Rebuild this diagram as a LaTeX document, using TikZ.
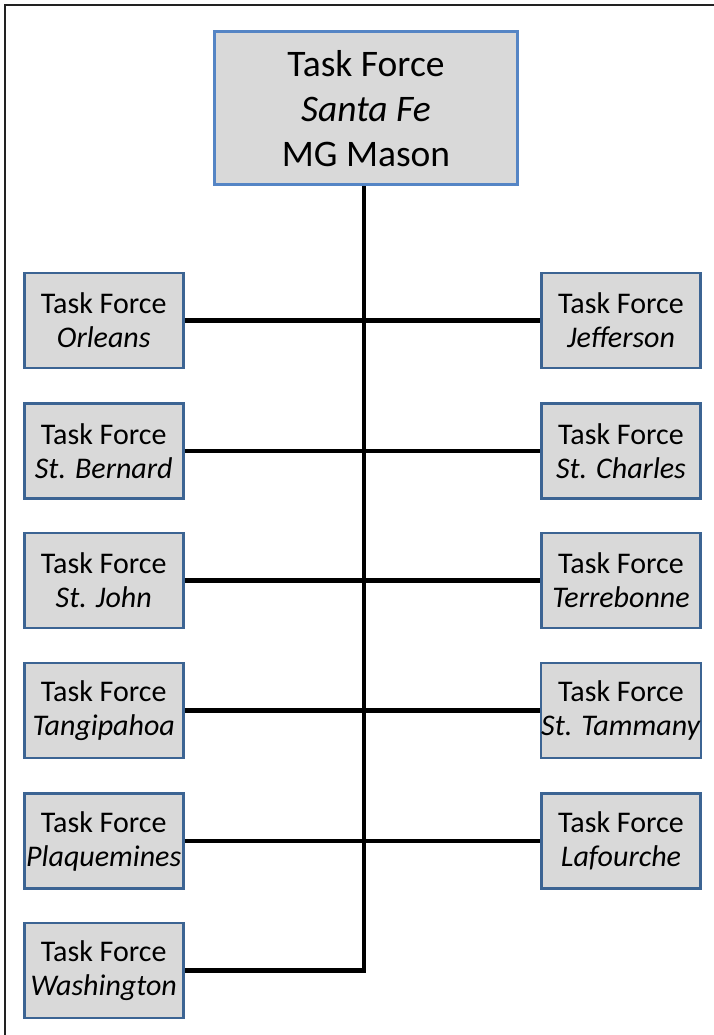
\documentclass[tikz,border=0pt]{standalone}
\usepackage{fontspec}
\setmainfont{Carlito}
\definecolor{boxfill}{HTML}{D9D9D9}
\definecolor{topedge}{HTML}{5585C5}
\definecolor{boxedge}{HTML}{3C6493}
\definecolor{framecol}{HTML}{222222}
\begin{document}
\begin{tikzpicture}[x=1pt,y=-1pt,
  tfbox/.style={draw=boxedge, line width=2.5pt, fill=boxfill, minimum width=159pt, minimum height=95pt, inner sep=0pt, align=center, font=\fontsize{30}{34}\selectfont},
  topbox/.style={draw=topedge, line width=3pt, fill=boxfill, minimum width=303pt, minimum height=153pt, inner sep=0pt, align=center, font=\fontsize{37.5}{45}\selectfont},
  link/.style={line width=4.5pt, black}]
\useasboundingbox (0,0) rectangle (714,1035);
\draw[framecol, line width=2.5pt] (5,1035) -- (5,5) -- (714,5);

\node[topbox] (top) at (366,108.5) {Task Force\\\textit{Santa Fe}\\MG Mason};

\node[tfbox] (orl) at (103.75,320.25) {Task Force\\\textit{Orleans}};
\node[tfbox] (ber) at (103.75,451.2) {Task Force\\\textit{St. Bernard}};
\node[tfbox] (joh) at (103.75,580.5) {Task Force\\\textit{St. John}};
\node[tfbox] (tan) at (103.75,710.5) {Task Force\\\textit{Tangipahoa}};
\node[tfbox] (pla) at (103.75,841) {Task Force\\\textit{Plaquemines}};
\node[tfbox] (was) at (103.75,970.7) {Task Force\\\textit{Washington}};

\node[tfbox] (jef) at (621,320.25) {Task Force\\\textit{Jefferson}};
\node[tfbox] (cha) at (621,451.2) {Task Force\\\textit{St. Charles}};
\node[tfbox] (ter) at (621,580.5) {Task Force\\\textit{Terrebonne}};
\node[tfbox] (tam) at (621,710.5) {Task Force\\\textit{St. Tammany}};
\node[tfbox] (laf) at (621,841) {Task Force\\\textit{Lafourche}};

\coordinate (vtop) at ([xshift=-2pt]top.south);
\coordinate (vend) at (vtop |- was.east);

\draw[link] (orl.east) -- (jef.west);
\draw[link] (ber.east) -- (cha.west);
\draw[link] (joh.east) -- (ter.west);
\draw[link] (tan.east) -- (tam.west);
\draw[link] (pla.east) -- (laf.west);
\draw[link, line join=miter] (vtop) -- (vend) -- (was.east);
\end{tikzpicture}
\end{document}
